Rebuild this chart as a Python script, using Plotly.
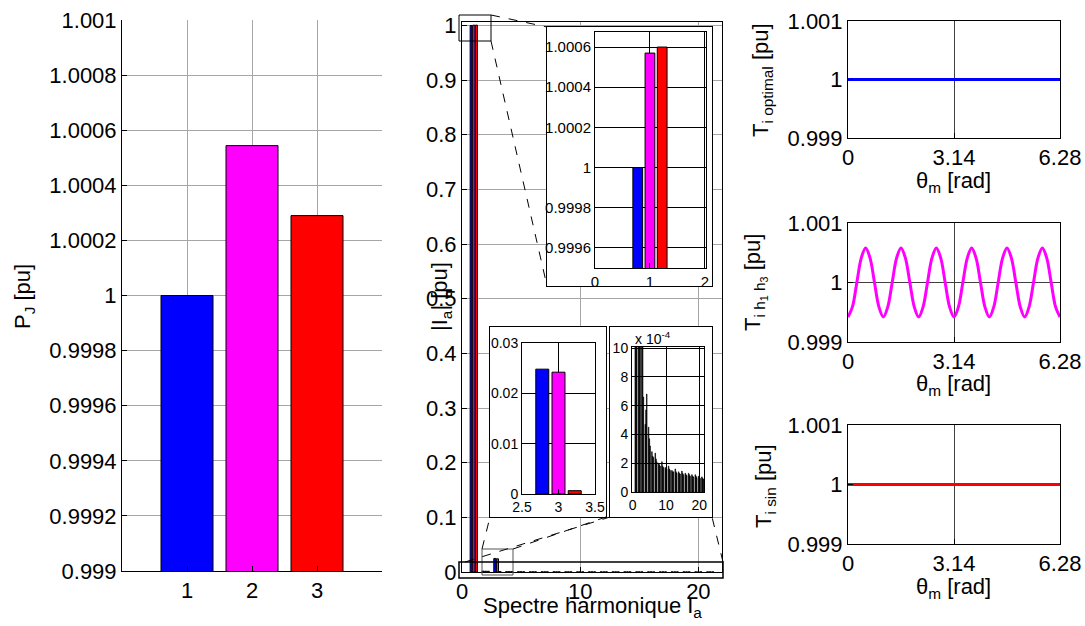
import plotly.graph_objects as go

W, H = 1085, 626

# ---------------- data ----------------
pj_categories = [1, 2, 3]
pj_values = [1.0, 1.000544, 1.00029]
bar_colors = ['#0000FF', '#FF00FF', '#FF0000']

harmonics = list(range(1, 22))
ia_optimal = [1.0, 0.0016, 0.0248, 4.7e-4, 4.5e-4, 2.8e-4, 2.7e-4, 2.0e-4, 2.1e-4, 1.7e-4,
              1.8e-4, 1.5e-4, 1.6e-4, 1.4e-4, 1.45e-4, 1.3e-4, 1.3e-4, 1.2e-4, 1.2e-4, 1.1e-4, 1.05e-4]
ia_h1h3 = [1.00057, 0.0014, 0.0242, 5.7e-4, 3.7e-4, 2.5e-4, 2.3e-4, 1.9e-4, 1.8e-4, 1.6e-4,
           1.6e-4, 1.4e-4, 1.4e-4, 1.3e-4, 1.3e-4, 1.2e-4, 1.2e-4, 1.1e-4, 1.1e-4, 1.0e-4, 0.95e-4]
ia_sin = [1.0006, 0.0013, 0.00066, 6.8e-4, 3.2e-4, 2.4e-4, 2.1e-4, 1.8e-4, 1.7e-4, 1.6e-4,
          1.5e-4, 1.4e-4, 1.3e-4, 1.25e-4, 1.2e-4, 1.15e-4, 1.1e-4, 1.05e-4, 1.0e-4, 0.95e-4, 0.9e-4]

theta_flat = [0.0, 1.57, 3.14, 4.71, 6.28]
t_optimal = [1.0, 1.0, 1.0, 1.0, 1.0]
t_sin = [1.0, 1.0, 1.0, 1.0, 1.0]

theta_h1h3 = [0.0, 0.131, 0.262, 0.392, 0.523, 0.654, 0.785, 0.916, 1.047, 1.178, 1.309, 1.439,
              1.570, 1.701, 1.832, 1.963, 2.093, 2.224, 2.355, 2.486, 2.617, 2.748, 2.878, 3.009,
              3.140, 3.271, 3.402, 3.533, 3.663, 3.794, 3.925, 4.056, 4.187, 4.318, 4.448, 4.579,
              4.710, 4.841, 4.972, 5.103, 5.233, 5.364, 5.495, 5.626, 5.757, 5.888, 6.018, 6.149, 6.280]
t_h1h3 = [0.99942, 0.99959, 1.00000, 1.00041, 1.00058, 1.00041, 1.00000, 0.99959,
          0.99942, 0.99959, 1.00000, 1.00041, 1.00058, 1.00041, 1.00000, 0.99959,
          0.99942, 0.99959, 1.00000, 1.00041, 1.00058, 1.00041, 1.00000, 0.99959,
          0.99942, 0.99959, 1.00000, 1.00041, 1.00058, 1.00041, 1.00000, 0.99959,
          0.99942, 0.99959, 1.00000, 1.00041, 1.00058, 1.00041, 1.00000, 0.99959,
          0.99942, 0.99959, 1.00000, 1.00041, 1.00058, 1.00041, 1.00000, 0.99959,
          0.99942]

pj_ticks = [0.999, 0.9992, 0.9994, 0.9996, 0.9998, 1.0, 1.0002, 1.0004, 1.0006, 1.0008, 1.001]
pj_ticktext = ['0.999', '0.9992', '0.9994', '0.9996', '0.9998', '1', '1.0002', '1.0004',
               '1.0006', '1.0008', '1.001']
ia_ticks = [0, 0.1, 0.2, 0.3, 0.4, 0.5, 0.6, 0.7, 0.8, 0.9, 1.0]
ia_ticktext = ['0', '0.1', '0.2', '0.3', '0.4', '0.5', '0.6', '0.7', '0.8', '0.9', '1']
zoom1_ticks = [0.9996, 0.9998, 1.0, 1.0002, 1.0004, 1.0006]
zoom1_ticktext = ['0.9996', '0.9998', '1', '1.0002', '1.0004', '1.0006']
zoom3_ticks = [0, 2e-4, 4e-4, 6e-4, 8e-4, 1e-3]
zoom3_ticktext = ['0', '2', '4', '6', '8', '10']
t_ticks = [0.999, 1.0, 1.001]
t_ticktext = ['0.999', '1', '1.001']
theta_ticks = [0, 3.14, 6.28]
theta_ticktext = ['0', '3.14', '6.28']

FONT = 'Liberation Sans, Arial, Helvetica, sans-serif'
series = [ia_optimal, ia_h1h3, ia_sin]
group_offsets = [-0.3111, -0.0889, 0.1333]
group_width = 0.1778


def dxp(a, b):
    return [a / W, b / W]


def dyp(top, bottom):
    return [1 - bottom / H, 1 - top / H]


def px(x):
    return x / W


def py(y):
    return 1 - y / H


fig = go.Figure()

# left panel
fig.add_trace(go.Bar(x=pj_categories, y=pj_values, width=0.8,
                     marker=dict(color=bar_colors, line=dict(color='black', width=1)),
                     xaxis='x', yaxis='y', showlegend=False, hoverinfo='skip'))

# main spectrum
for s, c, o in zip(series, bar_colors, group_offsets):
    fig.add_trace(go.Bar(x=harmonics, y=s, width=group_width, offset=o,
                         marker=dict(color=c, line=dict(color='black', width=1)),
                         xaxis='x2', yaxis='y2', showlegend=False, hoverinfo='skip'))

# frame 1
fig.add_trace(go.Scatter(x=[None], y=[None], xaxis='x3', yaxis='y3', showlegend=False))
for s, c, o in zip(series, bar_colors, group_offsets):
    fig.add_trace(go.Bar(x=harmonics, y=s, width=group_width, offset=o,
                         marker=dict(color=c, line=dict(color='black', width=1)),
                         xaxis='x4', yaxis='y4', showlegend=False, hoverinfo='skip'))
# frame 2
fig.add_trace(go.Scatter(x=[None], y=[None], xaxis='x5', yaxis='y5', showlegend=False))
for s, c, o in zip(series, bar_colors, group_offsets):
    fig.add_trace(go.Bar(x=harmonics, y=s, width=group_width, offset=o,
                         marker=dict(color=c, line=dict(color='black', width=1)),
                         xaxis='x6', yaxis='y6', showlegend=False, hoverinfo='skip'))
# frame 3
fig.add_trace(go.Scatter(x=[None], y=[None], xaxis='x7', yaxis='y7', showlegend=False))
for s, o in zip(series, group_offsets):
    fig.add_trace(go.Bar(x=harmonics, y=s, width=group_width, offset=o,
                         marker=dict(color='black', line=dict(color='black', width=0.6)),
                         xaxis='x8', yaxis='y8', showlegend=False, hoverinfo='skip'))

# right panels
fig.add_trace(go.Scatter(x=theta_flat, y=t_optimal, mode='lines',
                         line=dict(color='#0000FF', width=3), xaxis='x9', yaxis='y9',
                         showlegend=False, hoverinfo='skip'))
fig.add_trace(go.Scatter(x=theta_h1h3, y=t_h1h3, mode='lines',
                         line=dict(color='#FF00FF', width=3, shape='spline'),
                         xaxis='x10', yaxis='y10', showlegend=False, hoverinfo='skip'))
fig.add_trace(go.Scatter(x=theta_flat, y=t_sin, mode='lines',
                         line=dict(color='#FF0000', width=3), xaxis='x11', yaxis='y11',
                         showlegend=False, hoverinfo='skip'))


def axis(domain, rng, tickvals=None, ticktext=None, size=22, grid='#a6a6a6', mirror=True,
         show=True, anchor=None, gridwidth=1):
    d = dict(domain=domain, range=rng, showline=True, linecolor='black', linewidth=1,
             mirror=mirror, ticks='inside' if show else '', ticklen=5, tickcolor='black',
             zeroline=False, showgrid=show and grid is not None,
             gridcolor=grid if grid else 'white', gridwidth=gridwidth,
             tickfont=dict(size=size, color='black', family=FONT),
             fixedrange=True, showticklabels=show, anchor=anchor, automargin=False)
    if tickvals is not None:
        d['tickvals'] = tickvals
        d['ticktext'] = ticktext
    return d


layout = dict(
    template='none',
    width=W, height=H, margin=dict(l=0, r=0, t=0, b=0, pad=0), autosize=False,
    paper_bgcolor='white', plot_bgcolor='white', barmode='overlay',
    font=dict(family=FONT, color='black'),
)

# left
layout['xaxis'] = axis(dxp(122, 382), [0, 4], [1, 2, 3], ['1', '2', '3'], mirror=False, anchor='y')
layout['yaxis'] = axis(dyp(20, 571), [0.999, 1.001], pj_ticks, pj_ticktext, mirror=False, anchor='x')
# main
layout['xaxis2'] = axis(dxp(462, 722), [0, 22], [0, 10, 20], ['0', '10', '20'], anchor='y2')
layout['yaxis2'] = axis(dyp(21.5, 572), [0, 1.0073], ia_ticks, ia_ticktext, anchor='x2')
# frame 1
layout['xaxis3'] = axis(dxp(547, 712), [0, 1], show=False, anchor='y3')
layout['yaxis3'] = axis(dyp(27, 286), [0, 1], show=False, anchor='x3')
# inset 1
layout['xaxis4'] = axis(dxp(595, 706), [0, 2.02], [0, 1, 2], ['0', '1', '2'], size=15,
                        grid='#000000', anchor='y4')
layout['yaxis4'] = axis(dyp(32, 268), [0.9995, 1.000675], zoom1_ticks, zoom1_ticktext, size=15,
                        grid='#000000', anchor='x4')
# frame 2
layout['xaxis5'] = axis(dxp(490, 606), [0, 1], show=False, anchor='y5')
layout['yaxis5'] = axis(dyp(327, 517), [0, 1], show=False, anchor='x5')
# inset 2
layout['xaxis6'] = axis(dxp(522, 595), [2.5, 3.5], [2.5, 3, 3.5], ['2.5', '3', '3.5'], size=14,
                        grid='#000000', anchor='y6')
layout['yaxis6'] = axis(dyp(343, 494), [0, 0.03], [0, 0.01, 0.02, 0.03],
                        ['0', '0.01', '0.02', '0.03'], size=14, grid='#000000', anchor='x6')
# frame 3
layout['xaxis7'] = axis(dxp(610, 712), [0, 1], show=False, anchor='y7')
layout['yaxis7'] = axis(dyp(327, 517), [0, 1], show=False, anchor='x7')
# inset 3
layout['xaxis8'] = axis(dxp(632, 704), [-0.2, 21.4], [0, 10, 20], ['0', '10', '20'], size=14,
                        grid='#000000', anchor='y8')
layout['yaxis8'] = axis(dyp(347, 492), [0, 0.001007], zoom3_ticks, zoom3_ticktext, size=14,
                        grid='#000000', anchor='x8')
# right panels
for i, (top, bot) in zip([9, 10, 11], [(21, 138), (223, 342), (425, 544)]):
    layout['xaxis%d' % i] = axis(dxp(848, 1060), [0, 6.28], theta_ticks, theta_ticktext,
                                 grid='#404040', anchor='y%d' % i, gridwidth=0.7)
    layout['yaxis%d' % i] = axis(dyp(top, bot), [0.999, 1.001], t_ticks, t_ticktext,
                                 grid='#404040', anchor='x%d' % i, gridwidth=0.7)

fig.update_layout(**layout)

# titles as annotations
ann = []


def text(x, y, s, size=22, angle=0, xanchor='center', yanchor='middle'):
    ann.append(dict(x=px(x), y=py(y), xref='paper', yref='paper', text=s, showarrow=False,
                    textangle=angle, xanchor=xanchor, yanchor=yanchor,
                    font=dict(size=size, family=FONT, color='black')))


text(24, 297, 'P<sub>J</sub> [pu]', angle=-90)
text(441, 297, '|I<sub>a</sub>| [pu]', angle=-90)
text(592, 607, 'Spectre harmonique I<sub>a</sub>')
text(762, 80, 'T<sub>i optimal</sub> [pu]', angle=-90)
text(755, 283, 'T<sub>i h<sub>1</sub> h<sub>3</sub></sub> [pu]', angle=-90)
text(765, 486, 'T<sub>i sin</sub> [pu]', angle=-90)
for yy in [182, 385, 588]:
    text(953, yy, '\u03b8<sub>m</sub> [rad]')
text(633, 338, 'x 10<sup>-4</sup>', size=14, xanchor='left')
fig.update_layout(annotations=ann)

# zoom boxes and dashed connectors
shapes = []


def rect(x0, y0, x1, y1, color='black', width=1):
    shapes.append(dict(type='rect', xref='paper', yref='paper', x0=px(x0), x1=px(x1),
                       y0=py(y0), y1=py(y1), line=dict(color=color, width=width),
                       fillcolor='rgba(0,0,0,0)', layer='above'))


def dline(x0, y0, x1, y1):
    shapes.append(dict(type='line', xref='paper', yref='paper', x0=px(x0), x1=px(x1),
                       y0=py(y0), y1=py(y1), line=dict(color='black', width=1, dash='dash'),
                       layer='above'))


rect(459, 15, 491, 41)
dline(491, 15, 547, 27)
dline(491, 41, 547, 286)
rect(482, 549, 513, 575, color='#555555')
dline(482, 549, 490, 517)
dline(513, 549, 606, 517)
rect(459, 562, 723, 578, width=1.5)
dline(465, 562, 610, 517)
dline(723, 562, 712, 517)
fig.update_layout(shapes=shapes)

fig.write_html("out.html", config={'displayModeBar': False},
               post_script="document.body.style.margin='0';document.body.style.overflow='hidden';")
